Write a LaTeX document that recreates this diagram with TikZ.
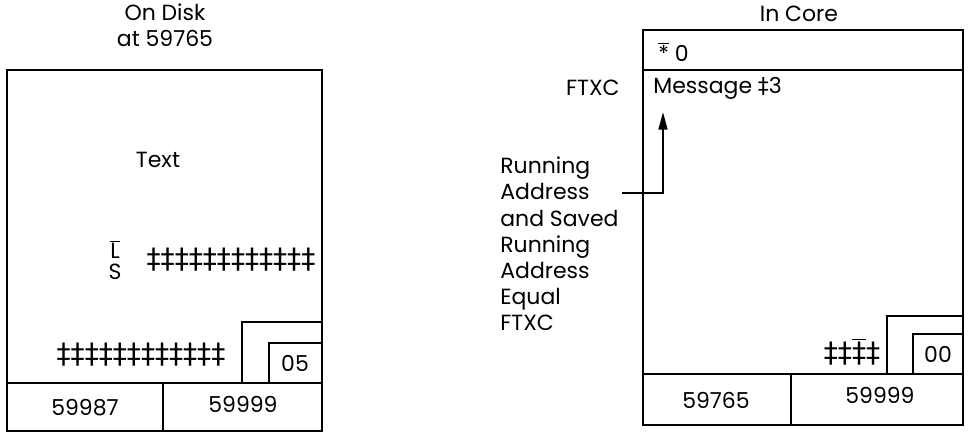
\documentclass[tikz,border=0pt]{standalone}
\usepackage{fontspec}
\setmainfont{Poppins}
\newfontfamily\ddfont{DejaVu Sans}
\usetikzlibrary{positioning,arrows.meta,calc}
\newcommand{\dd}{{\ddfont\char"2021}}
\newcommand{\barred}[1]{$\overline{\hbox{#1}}$}

\begin{document}
\begin{tikzpicture}[
    x=0.02cm, y=-0.02cm,
    frame/.style={line width=1.2pt},
    lbl/.style={inner sep=0pt, font=\fontsize{12.5}{14.9}\selectfont},
    marks/.style={inner sep=0pt, font=\fontsize{16}{16}\selectfont},
    arrow/.style={-{Triangle[length=10pt,width=5pt]}, line width=1.2pt}
]
\useasboundingbox (0,0) rectangle (970,434);

\node[lbl, align=center] (disktitle) at (165,25) {On Disk\\at 59765};
\draw[frame] (7,70) rectangle (322,431);
\draw[frame] (7,383) -- (322,383);
\draw[frame] (163,383) -- (163,431);
\draw[frame] (242,383) |- (322,322);
\draw[frame] (269,383) |- (322,343);
\node[lbl] (disktext) at (158,160) {Text};
\node[lbl, align=center] (ls) at (115,260) {\barred{L}\\[-3pt]S};
\node[marks] (upmarks) at (231,260) {\dd\dd\dd\dd\dd\dd\dd\dd\dd\dd\dd\dd};
\node[marks] (lowmarks) at (141,355) {\dd\dd\dd\dd\dd\dd\dd\dd\dd\dd\dd\dd};
\node[lbl] (diskcnt) at (295,363) {05};
\node[lbl] (diskprev) at (85,408) {59987};
\node[lbl] (disknext) at (243,404) {59999};

\node[lbl] (coretitle) at (799,14) {In Core};
\draw[frame] (643,30) rectangle (963,425);
\draw[frame] (643,70) -- (963,70);
\draw[frame] (643,374) -- (963,374);
\draw[frame] (791,374) -- (791,425);
\draw[frame] (887,374) |- (963,316);
\draw[frame] (913,374) |- (963,334);
\node[lbl, anchor=west] (star) at (658,52) {\barred{*}\ 0};
\node[lbl, anchor=east] (ftxc) at (620,88) {FTXC};
\node[lbl, anchor=west] (msg) at (653,88) {Message \dd3};
\node[marks] (coremarks) at (852,352) {\dd\dd\barred{\dd}\dd};
\node[lbl] (corecnt) at (938,354) {00};
\node[lbl] (coreprev) at (716,400) {59765};
\node[lbl] (corenext) at (880,395) {59999};

\node[lbl, anchor=west, align=left] (running) at (500,244)
    {Running\\Address\\and Saved\\Running\\Address\\Equal\\FTXC};
\coordinate (tail) at (622,193);
\coordinate (tip) at (663,112);
\draw[arrow] (tail) -| (tip);
\end{tikzpicture}
\end{document}
